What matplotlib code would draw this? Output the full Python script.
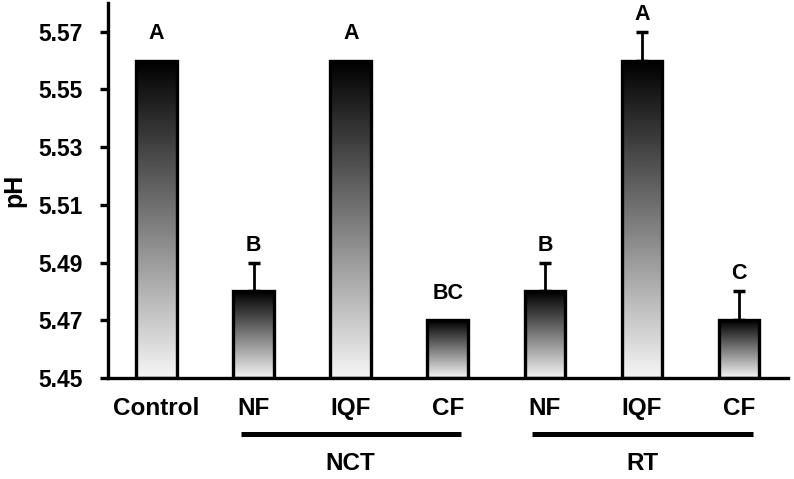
import matplotlib.pyplot as plt
import matplotlib.transforms as mtransforms
import numpy as np

plt.rcParams['font.family'] = ['Liberation Sans', 'DejaVu Sans']
plt.rcParams['font.weight'] = 'bold'

# data
categories = ['Control', 'NF', 'IQF', 'CF', 'NF', 'IQF', 'CF']
ph = [5.56, 5.48, 5.56, 5.47, 5.48, 5.56, 5.47]
err = [0.0, 0.01, 0.0, 0.0, 0.01, 0.01, 0.01]
letters = ['A', 'B', 'A', 'BC', 'B', 'A', 'C']
groups = ['NCT', 'RT']
group_members = [(1, 3), (4, 6)]
yticks = [5.45, 5.47, 5.49, 5.51, 5.53, 5.55, 5.57]

fig = plt.figure(figsize=(7.94, 4.79), dpi=100)
ax = fig.add_axes([0.136, 0.211, 0.856, 0.783])

x = np.arange(len(categories))
width = 0.42
ybase = 5.45

grad = np.linspace(0.96, 0.0, 256).reshape(-1, 1)
bars = ax.bar(x, np.array(ph) - ybase, width, bottom=ybase, facecolor='none',
              edgecolor='black', linewidth=2.4, zorder=3)
for b in bars:
    x0, y0 = b.get_x(), b.get_y()
    w, h = b.get_width(), b.get_height()
    im = ax.imshow(grad, cmap='gray', vmin=0, vmax=1, aspect='auto',
                   extent=[x0, x0 + w, y0, y0 + h], origin='lower', zorder=2)
    im.set_clip_path(b)

# upper error bars only
for xi, v, e in zip(x, ph, err):
    if e > 0:
        ax.errorbar(xi, v, yerr=[[0], [e]], fmt='none', ecolor='black',
                    elinewidth=2, capsize=4.3, capthick=2.5, zorder=1)

# significance letters
for xi, v, e, lab in zip(x, ph, err, letters):
    off = 5 if e > 0 else 12
    ax.annotate(lab, (xi, v + e), xytext=(0, off), textcoords='offset points',
                ha='center', va='bottom', fontsize=15.5, fontweight='bold')

ax.set_xlim(-0.5, 6.5)
ax.set_ylim(5.45, 5.58)
ax.set_yticks(yticks)
ax.set_yticklabels([f'{t:.2f}' for t in yticks])
ax.set_xticks(x)
ax.set_xticklabels(categories)
ax.tick_params(axis='y', direction='out', length=6, width=2.4, pad=12, labelsize=16.5)
ax.tick_params(axis='x', length=0, pad=14, labelsize=17.5)
for s in ['top', 'right']:
    ax.spines[s].set_visible(False)
for s in ['left', 'bottom']:
    ax.spines[s].set_linewidth(2.4)
ax.set_ylabel('pH', fontsize=18, fontweight='bold')
ax.yaxis.set_label_coords(-0.12, 0.5)

# group lines under the axis
trans = mtransforms.blended_transform_factory(ax.transData, ax.transAxes)
for name, (i, j) in zip(groups, group_members):
    ax.plot([i - 0.13, j + 0.14], [-0.149, -0.149], color='black', linewidth=3.6,
            transform=trans, clip_on=False, solid_capstyle='butt')
    ax.text((i + j) / 2, -0.227, name, transform=trans, ha='center', va='center',
            fontsize=17.5, fontweight='bold')

fig.savefig('out.png', dpi=100)
